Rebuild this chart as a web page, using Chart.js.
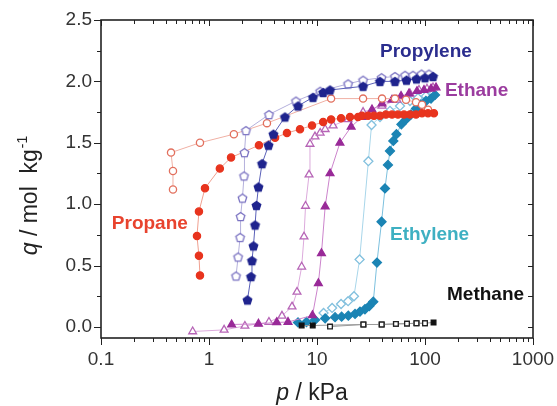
<!DOCTYPE html>
<html>
<head>
<meta charset="utf-8">
<script src="https://cdn.jsdelivr.net/npm/chart.js@4/dist/chart.umd.min.js"></script>
<style>
    html, body { margin: 0; padding: 0; background: #fff; }
</style>
</head>
<body>
<canvas id="isoChart" width="557" height="406"></canvas>
<script>
// Axis ticks
const xTicks = [0.1, 1, 10, 100, 1000];
const xTickLabels = ['0.1', '1', '10', '100', '1000'];
const yTicks = [0, 0.5, 1, 1.5, 2, 2.5];
const yTickLabels = ['0.0', '0.5', '1.0', '1.5', '2.0', '2.5'];

// Propane (filled = adsorption, open = desorption)
const propaneAdsP = [0.825, 0.807, 0.774, 0.807, 0.918, 1.26, 1.60, 2.90, 4.09, 5.27, 6.96, 8.99, 11.4, 13.5, 16.7, 20.2, 24.0, 26.1, 29.7, 33.7, 38.3, 43.5, 49.5, 56.2, 63.9, 72.6, 82.6, 93.8, 106.6, 121];
const propaneAdsQ = [0.42, 0.58, 0.74, 0.94, 1.13, 1.29, 1.38, 1.48, 1.54, 1.58, 1.61, 1.64, 1.67, 1.69, 1.70, 1.71, 1.71, 1.72, 1.72, 1.72, 1.72, 1.73, 1.73, 1.73, 1.73, 1.73, 1.73, 1.74, 1.74, 1.74];
const propaneDesP = [0.464, 0.464, 0.445, 0.825, 1.70, 3.44, 13.5, 26.7, 40.0, 52.7, 66.7, 82.6, 93.8, 106.6];
const propaneDesQ = [1.12, 1.27, 1.42, 1.50, 1.57, 1.66, 1.86, 1.86, 1.86, 1.86, 1.85, 1.83, 1.81, 1.77];

// Propylene
const propyleneAdsP = [2.27, 2.45, 2.50, 2.58, 2.67, 2.75, 2.87, 3.10, 3.56, 3.95, 5.05, 6.67, 9.18, 11.4, 13.2, 26.7, 38.3, 52.7, 67.4, 83.4, 100, 118.6];
const propyleneAdsQ = [0.22, 0.41, 0.54, 0.66, 0.83, 0.99, 1.14, 1.33, 1.48, 1.57, 1.71, 1.80, 1.87, 1.91, 1.93, 1.96, 2.00, 2.00, 2.01, 2.02, 2.03, 2.04];
const propyleneDesP = [1.78, 1.86, 1.94, 1.96, 2.04, 2.11, 2.13, 2.20, 3.59, 6.39, 10.7, 19.4, 26.7, 39.6, 52.7, 65.3, 77.4, 92.9, 108.9];
const propyleneDesQ = [0.415, 0.57, 0.73, 0.90, 1.05, 1.23, 1.42, 1.60, 1.73, 1.84, 1.92, 1.98, 2.01, 2.03, 2.04, 2.05, 2.05, 2.06, 2.06];

// Ethane
const ethaneAdsP = [1.62, 2.87, 4.24, 5.39, 9.08, 10.3, 11.0, 11.9, 13.2, 16.3, 20.7, 26.1, 32.3, 40.0, 49.5, 60.0, 71.1, 84.3, 97.9, 113.7, 126.5];
const ethaneAdsQ = [0.02, 0.025, 0.037, 0.04, 0.094, 0.356, 0.60, 0.98, 1.25, 1.50, 1.63, 1.71, 1.77, 1.82, 1.85, 1.88, 1.90, 1.92, 1.93, 1.94, 1.95];
const ethaneDesP = [0.706, 1.38, 2.15, 3.59, 4.74, 5.87, 6.53, 7.21, 7.58, 7.83, 8.44, 8.61, 9.58, 10.7, 11.9, 14.1, 19.4, 26.7, 40.0, 55.0, 72.6, 88.0, 104.3, 118.6];
const ethaneDesQ = [-0.037, -0.024, 0.008, 0.04, 0.09, 0.165, 0.285, 0.49, 0.735, 0.985, 1.24, 1.49, 1.55, 1.58, 1.61, 1.64, 1.69, 1.75, 1.80, 1.85, 1.90, 1.93, 1.94, 1.95];

// Ethylene
const ethyleneAdsP = [6.67, 7.99, 9.58, 11.9, 14.7, 16.9, 19.5, 22.5, 25.0, 27.8, 30.5, 33.2, 35.9, 39.6, 42.6, 45.4, 47.4, 50.9, 54.4, 60.4, 66.7, 74.2, 82.6, 91.8, 102, 113.7, 123.8];
const ethyleneAdsQ = [0.037, 0.04, 0.057, 0.07, 0.08, 0.084, 0.092, 0.106, 0.125, 0.144, 0.17, 0.206, 0.524, 0.857, 1.128, 1.32, 1.433, 1.515, 1.57, 1.65, 1.69, 1.73, 1.78, 1.81, 1.84, 1.86, 1.89];
const ethyleneDesP = [11.5, 13.8, 16.7, 19.4, 22.0, 24.8, 29.9, 32.0, 38.3, 47.4, 58.7, 72.6, 86.1, 102, 118.6];
const ethyleneDesQ = [0.114, 0.155, 0.187, 0.21, 0.25, 0.55, 1.35, 1.645, 1.71, 1.76, 1.80, 1.84, 1.865, 1.88, 1.90];

// Methane
const methaneAdsP = [7.21, 9.13, 26.9, 39.7, 53.8, 68.1, 83.4, 100, 120];
const methaneAdsQ = [0.012, 0.012, 0.02, 0.02, 0.025, 0.027, 0.03, 0.03, 0.037];
const methaneDesP = [13.2, 26.9, 39.7, 53.8, 68.1, 83.4, 100];
const methaneDesQ = [0.003, 0.02, 0.02, 0.025, 0.027, 0.03, 0.03];

// In-plot gas labels (anchored in data units, left edge / middle)
const gasNames = ['Propylene', 'Ethane', 'Propane', 'Ethylene', 'Methane'];
const gasLabelP = [38.3, 153, 0.126, 47.4, 160];
const gasLabelQ = [2.25, 1.93, 0.847, 0.757, 0.269];
const gasColors = ['#2b2d8e', '#9b3c9f', '#e8432e', '#3eb0c2', '#111111'];

const FONT = "'Liberation Sans', Arial, Helvetica, sans-serif";

// Chart.js has no pentagon, so build one as a canvas point style
function pentagon(fill, stroke, r) {
    const c = document.createElement('canvas');
    const s = Math.ceil(r * 2 + 4);
    c.width = s; c.height = s;
    const g = c.getContext('2d');
    g.beginPath();
    for (let i = 0; i < 5; i++) {
        const a = -Math.PI / 2 + i * 2 * Math.PI / 5;
        const px = s / 2 + r * Math.cos(a), py = s / 2 + r * Math.sin(a) + r * 0.1;
        i ? g.lineTo(px, py) : g.moveTo(px, py);
    }
    g.closePath();
    g.fillStyle = fill; g.fill();
    g.lineWidth = 1.3; g.strokeStyle = stroke; g.stroke();
    return c;
}

function series(ps, qs, opts) {
    return Object.assign({
        data: ps.map((p, i) => ({ x: p, y: qs[i] })),
        showLine: true,
        borderWidth: 1,
        pointBorderWidth: 1.3,
        pointRadius: 3.6,
        tension: 0
    }, opts);
}

// first dataset is drawn on top
const datasets = [
    series(methaneDesP, methaneDesQ, { borderColor: '#9a9a9a', pointStyle: 'rect', pointRadius: 3.3, pointBackgroundColor: '#fff', pointBorderColor: '#222' }),
    series(methaneAdsP, methaneAdsQ, { borderColor: '#9a9a9a', pointStyle: 'rect', pointRadius: 3.3, pointBackgroundColor: '#111', pointBorderColor: '#111' }),
    series(propyleneAdsP, propyleneAdsQ, { borderColor: '#5a60b8', pointStyle: pentagon('#1f248e', '#1f248e', 4.5) }),
    series(propyleneDesP, propyleneDesQ, { borderColor: '#b4b0dc', pointStyle: pentagon('#fff', '#7a72c2', 4.5) }),
    series(propaneAdsP, propaneAdsQ, { borderColor: '#f0a090', pointStyle: 'circle', pointBackgroundColor: '#e8341e', pointBorderColor: '#e8341e' }),
    series(propaneDesP, propaneDesQ, { borderColor: '#f0b0a4', pointStyle: 'circle', pointBackgroundColor: '#fff', pointBorderColor: '#e2705e' }),
    series(ethaneAdsP, ethaneAdsQ, { borderColor: '#cc84cc', pointStyle: 'triangle', pointRadius: 4.5, pointBackgroundColor: '#992a98', pointBorderColor: '#992a98' }),
    series(ethaneDesP, ethaneDesQ, { borderColor: '#dcaadc', pointStyle: 'triangle', pointRadius: 4.5, pointBackgroundColor: '#fff', pointBorderColor: '#b664b6' }),
    series(ethyleneAdsP, ethyleneAdsQ, { borderColor: '#7cc0de', pointStyle: 'rectRot', pointRadius: 4.5, pointBackgroundColor: '#1b84b4', pointBorderColor: '#1b84b4' }),
    series(ethyleneDesP, ethyleneDesQ, { borderColor: '#a8d6ea', pointStyle: 'rectRot', pointRadius: 4.5, pointBackgroundColor: '#fff', pointBorderColor: '#82c0de' })
];

// Frame, inward/outward tick marks, axis titles and gas labels
const decorations = {
    id: 'decorations',
    afterDatasetsDraw(chart) {
        const { ctx, chartArea: a, scales: { x, y } } = chart;
        const snap = v => Math.round(v) + 0.5;
        ctx.save();

        // tick marks
        ctx.strokeStyle = '#222';
        ctx.lineWidth = 1;
        ctx.beginPath();
        xTicks.forEach((d, i) => {
            const px = snap(x.getPixelForValue(d));
            ctx.moveTo(px, a.bottom); ctx.lineTo(px, a.bottom + 7);
            ctx.moveTo(px, a.top); ctx.lineTo(px, a.top + 6);
            if (i < xTicks.length - 1) {
                for (let m = 2; m <= 9; m++) {
                    const mx = snap(x.getPixelForValue(d * m));
                    ctx.moveTo(mx, a.bottom); ctx.lineTo(mx, a.bottom + 4);
                    ctx.moveTo(mx, a.top); ctx.lineTo(mx, a.top + 4);
                }
            }
        });
        yTicks.forEach((v, i) => {
            const py = snap(y.getPixelForValue(v));
            ctx.moveTo(a.left, py); ctx.lineTo(a.left - 7, py);
            ctx.moveTo(a.right, py); ctx.lineTo(a.right - 5, py);
            if (i > 0) {
                const my = snap(y.getPixelForValue(v - 0.25));
                ctx.moveTo(a.left, my); ctx.lineTo(a.left - 4, my);
                ctx.moveTo(a.right, my); ctx.lineTo(a.right - 5, my);
            }
        });
        ctx.stroke();

        // frame
        ctx.lineWidth = 1.6;
        ctx.strokeRect(a.left, a.top, a.right - a.left, a.bottom - a.top);

        // gas labels
        ctx.font = 'bold 19px ' + FONT;
        ctx.textBaseline = 'middle';
        ctx.textAlign = 'left';
        gasNames.forEach((name, i) => {
            ctx.fillStyle = gasColors[i];
            ctx.fillText(name, x.getPixelForValue(gasLabelP[i]), y.getPixelForValue(gasLabelQ[i]) + 1);
        });

        // x title: italic p / kPa
        ctx.fillStyle = '#222';
        ctx.textBaseline = 'alphabetic';
        const xt1 = 'p', xt2 = ' / kPa';
        ctx.font = 'italic 23px ' + FONT;
        const w1 = ctx.measureText(xt1).width;
        ctx.font = '23px ' + FONT;
        const w2 = ctx.measureText(xt2).width;
        let sx = 312 - (w1 + w2) / 2;
        ctx.font = 'italic 23px ' + FONT;
        ctx.fillText(xt1, sx, 400);
        ctx.font = '23px ' + FONT;
        ctx.fillText(xt2, sx + w1, 400);

        // y title: italic q / mol kg^-1, rotated
        ctx.translate(37, 196);
        ctx.rotate(-Math.PI / 2);
        const yt1 = 'q', yt2 = ' / mol  kg', yt3 = '-1';
        ctx.font = 'italic 23px ' + FONT;
        const v1 = ctx.measureText(yt1).width;
        ctx.font = '23px ' + FONT;
        const v2 = ctx.measureText(yt2).width;
        ctx.font = '14px ' + FONT;
        const v3 = ctx.measureText(yt3).width;
        let sy = -(v1 + v2 + v3) / 2;
        ctx.font = 'italic 23px ' + FONT;
        ctx.fillText(yt1, sy, 0);
        ctx.font = '23px ' + FONT;
        ctx.fillText(yt2, sy + v1, 0);
        ctx.font = '14px ' + FONT;
        ctx.fillText(yt3, sy + v1 + v2 + 1, -10);

        ctx.restore();
    }
};

new Chart(document.getElementById('isoChart'), {
    type: 'scatter',
    data: { datasets },
    options: {
        responsive: false,
        animation: false,
        layout: { padding: { left: 0, right: 24, top: 20, bottom: 0 } },
        plugins: { legend: { display: false }, tooltip: { enabled: false } },
        scales: {
            x: {
                type: 'logarithmic',
                min: 0.1,
                max: 1000,
                afterFit: s => { s.height = 68; s.paddingLeft = 0; s.paddingRight = 0; },
                afterBuildTicks: s => { s.ticks = xTicks.map(v => ({ value: v })); },
                ticks: {
                    callback: (v, i) => xTickLabels[i],
                    font: { family: FONT, size: 19 },
                    color: '#333',
                    padding: 10,
                    maxRotation: 0,
                    autoSkip: false
                },
                grid: { display: false, drawTicks: false },
                border: { display: false }
            },
            y: {
                min: -0.09,
                max: 2.5,
                afterFit: s => { s.width = 101; s.paddingTop = 0; s.paddingBottom = 0; },
                afterBuildTicks: s => { s.ticks = yTicks.map(v => ({ value: v })); },
                ticks: {
                    callback: (v, i) => yTickLabels[i],
                    font: { family: FONT, size: 19 },
                    color: '#333',
                    padding: 9,
                    autoSkip: false
                },
                grid: { display: false, drawTicks: false },
                border: { display: false }
            }
        }
    },
    plugins: [decorations]
});
</script>
</body>
</html>
